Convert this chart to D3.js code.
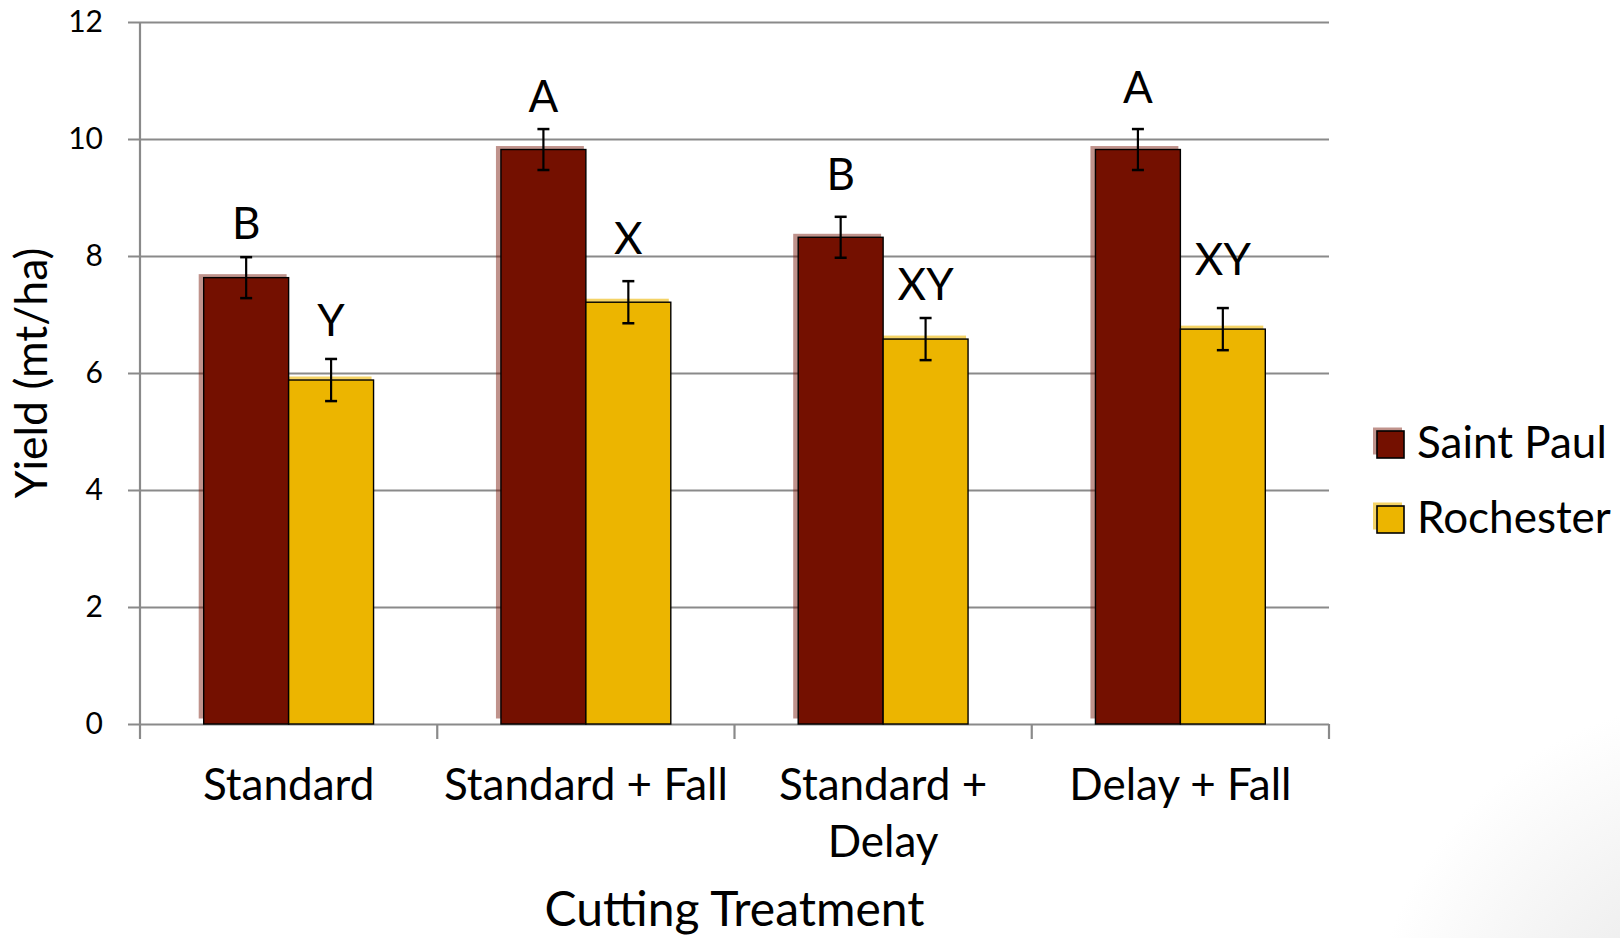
<!DOCTYPE html>
<html>
<head>
<meta charset="utf-8">
<script src="https://cdn.jsdelivr.net/npm/d3@7"></script>
<style>
  html, body { margin: 0; padding: 0; background: #fff; }
  svg { display: block; }
  text { font-family: Lato, "Open Sans", sans-serif; fill: #000; }
</style>
</head>
<body>
<svg id="chart" width="1620" height="938"></svg>
<script>
// Yield by cutting treatment at two locations
const categories = ["Standard", "Standard + Fall", "Standard + Delay", "Delay + Fall"];
const categoryLines = [["Standard"], ["Standard + Fall"], ["Standard +", "Delay"], ["Delay + Fall"]];
const seriesNames = ["Saint Paul", "Rochester"];

const saintPaul    = [7.63, 9.82, 8.32, 9.82];
const rochester    = [5.88, 7.21, 6.58, 6.75];
const saintPaulErr = [0.35, 0.35, 0.35, 0.35];
const rochesterErr = [0.36, 0.36, 0.36, 0.36];

// Mean-separation letters and the height (in mt/ha) where each sits
const saintPaulLetters = ["B", "A", "B", "A"];
const rochesterLetters = ["Y", "X", "XY", "XY"];
const saintPaulLetterY = [8.29, 10.46, 9.12, 10.62];
const rochesterLetterY = [6.64, 8.03, 7.24, 7.67];

const yTicks = [0, 2, 4, 6, 8, 10, 12];

const colors = { "Saint Paul": "#741000", "Rochester": "#ecb500" };
const shadowOpacity = { "Saint Paul": 0.45, "Rochester": 0.6 };

const svg = d3.select("#chart");

// soft grey vignette in the lower-right corner
const defs = svg.append("defs");
const rg = defs.append("radialGradient").attr("id", "corner")
  .attr("gradientUnits", "userSpaceOnUse")
  .attr("cx", 1720).attr("cy", 1050).attr("r", 350);
rg.append("stop").attr("offset", 0).attr("stop-color", "#e6e6e6");
rg.append("stop").attr("offset", 0.45).attr("stop-color", "#f0f0f0");
rg.append("stop").attr("offset", 1).attr("stop-color", "#ffffff");
svg.append("rect").attr("width", 1620).attr("height", 938).attr("fill", "url(#corner)");

const plotLeft = 140, plotRight = 1329, plotTop = 22, plotBottom = 724;

const y = d3.scaleLinear().domain([0, 12]).range([plotBottom, plotTop]);
const x0 = d3.scaleBand().domain(categories).range([plotLeft, plotRight]).paddingInner(0).paddingOuter(0);
const x1 = d3.scaleBand().domain(seriesNames).range([0, x0.bandwidth()]).paddingInner(0).paddingOuter(0.75);

const gridColor = "#8a8a8a";

// horizontal gridlines with the left tick stubs
svg.append("g")
  .attr("transform", `translate(${plotRight},0)`)
  .call(d3.axisLeft(y).tickValues(yTicks).tickSize(plotRight - plotLeft + 12).tickFormat(""))
  .call(g => g.select(".domain").remove())
  .call(g => g.selectAll(".tick line").attr("stroke", gridColor).attr("stroke-width", 2.2));

// y tick labels
svg.append("g")
  .attr("transform", `translate(${plotLeft},0)`)
  .call(d3.axisLeft(y).tickValues(yTicks).tickSize(0).tickPadding(37).tickFormat(d3.format("d")))
  .call(g => g.select(".domain").remove())
  .call(g => g.selectAll(".tick text")
    .attr("font-size", 30).attr("font-family", "Lato, sans-serif").attr("fill", "#000"));

// vertical axis line
svg.append("line")
  .attr("x1", plotLeft).attr("x2", plotLeft).attr("y1", y(12)).attr("y2", plotBottom)
  .attr("stroke", gridColor).attr("stroke-width", 2.2);

// category boundary ticks below the baseline
const boundaries = categories.map(c => x0(c)).concat([plotRight]);
svg.append("g").selectAll("line").data(boundaries).join("line")
  .attr("x1", d => d).attr("x2", d => d)
  .attr("y1", plotBottom).attr("y2", plotBottom + 15)
  .attr("stroke", gridColor).attr("stroke-width", 2.2);

// rows of data for bars
const rows = categories.map((c, i) => ({
  category: c,
  bars: [
    { series: "Saint Paul", value: saintPaul[i], err: saintPaulErr[i], letter: saintPaulLetters[i], letterY: saintPaulLetterY[i] },
    { series: "Rochester", value: rochester[i], err: rochesterErr[i], letter: rochesterLetters[i], letterY: rochesterLetterY[i] }
  ]
}));

const groups = svg.append("g").selectAll("g").data(rows).join("g")
  .attr("transform", d => `translate(${x0(d.category)},0)`);

// shadows first, so bars of the other series cover them
groups.selectAll("rect.shadow").data(d => d.bars).join("rect")
  .attr("class", "shadow")
  .attr("x", d => x1(d.series) - 5)
  .attr("y", d => y(d.value) - 3.5)
  .attr("width", x1.bandwidth() + 3)
  .attr("height", d => plotBottom - y(d.value) - 2)
  .attr("fill", d => colors[d.series])
  .attr("opacity", d => shadowOpacity[d.series]);

groups.selectAll("rect.bar").data(d => d.bars).join("rect")
  .attr("class", "bar")
  .attr("x", d => x1(d.series))
  .attr("y", d => y(d.value))
  .attr("width", x1.bandwidth())
  .attr("height", d => plotBottom - y(d.value))
  .attr("fill", d => colors[d.series])
  .attr("stroke", "#000").attr("stroke-width", 1.4);

// error bars
const eb = groups.selectAll("g.err").data(d => d.bars).join("g").attr("class", "err")
  .attr("transform", d => `translate(${x1(d.series) + x1.bandwidth() / 2},0)`);
eb.append("line")
  .attr("x1", 0).attr("x2", 0)
  .attr("y1", d => y(d.value + d.err)).attr("y2", d => y(d.value - d.err))
  .attr("stroke", "#000").attr("stroke-width", 2.2);
eb.selectAll("line.cap").data(d => [d.value + d.err, d.value - d.err]).join("line")
  .attr("class", "cap")
  .attr("x1", -6).attr("x2", 6)
  .attr("y1", d => y(d)).attr("y2", d => y(d))
  .attr("stroke", "#000").attr("stroke-width", 2.5);

// significance letters
groups.selectAll("text.letter").data(d => d.bars).join("text")
  .attr("class", "letter")
  .attr("x", d => x1(d.series) + x1.bandwidth() / 2)
  .attr("y", d => y(d.letterY))
  .attr("text-anchor", "middle")
  .attr("font-size", 44)
  .text(d => d.letter);

// category labels
const catLabels = svg.append("g").selectAll("text").data(categories).join("text")
  .attr("x", d => x0(d) + x0.bandwidth() / 2)
  .attr("y", 800)
  .attr("text-anchor", "middle")
  .attr("font-size", 44);
catLabels.selectAll("tspan").data((d, i) => categoryLines[i]).join("tspan")
  .attr("x", function () { return this.parentNode.getAttribute("x"); })
  .attr("dy", (d, i) => i === 0 ? 0 : 57)
  .text(d => d);

// axis titles
svg.append("text")
  .attr("x", (plotLeft + plotRight) / 2).attr("y", 926)
  .attr("text-anchor", "middle").attr("font-size", 48)
  .text("Cutting Treatment");

svg.append("text")
  .attr("transform", "translate(47,373) rotate(-90)")
  .attr("text-anchor", "middle").attr("font-size", 44.5)
  .text("Yield (mt/ha)");

// legend
const legend = svg.append("g").selectAll("g").data(seriesNames).join("g")
  .attr("transform", (d, i) => `translate(1377,${431 + i * 75})`);
legend.append("rect")
  .attr("x", -4).attr("y", -3.5).attr("width", 29).attr("height", 27)
  .attr("fill", d => colors[d]).attr("opacity", d => shadowOpacity[d]);
legend.append("rect")
  .attr("width", 27).attr("height", 27)
  .attr("fill", d => colors[d]).attr("stroke", "#000").attr("stroke-width", 1.6);
legend.append("text")
  .attr("x", 40).attr("y", 27)
  .attr("font-size", 44)
  .text(d => d);
</script>
</body>
</html>
